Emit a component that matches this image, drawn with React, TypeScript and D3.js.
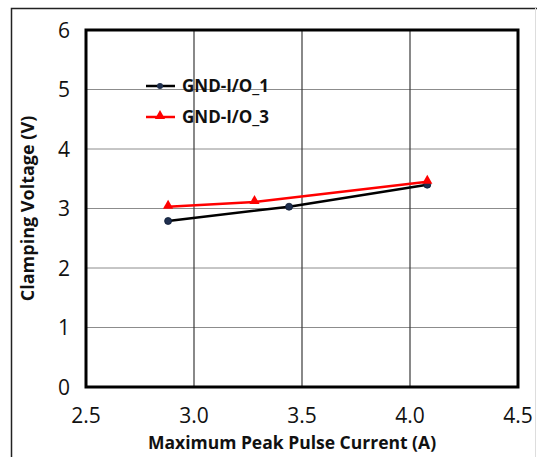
import React from "react";
import * as d3 from "d3";

const xTicks = [2.5, 3.0, 3.5, 4.0, 4.5];
const yTicks = [0, 1, 2, 3, 4, 5, 6];
const seriesNames = ["GND-I/O_1", "GND-I/O_3"];
const io1X = [2.88, 3.44, 4.08];
const io1Y = [2.79, 3.03, 3.4];
const io3X = [2.88, 3.28, 4.08];
const io3Y = [3.03, 3.11, 3.45];

const W = 537, H = 457;
const m = { l: 86, r: 518, t: 30, b: 387 };

export default function App() {
  const x = d3.scaleLinear().domain([2.5, 4.5]).range([m.l, m.r]);
  const y = d3.scaleLinear().domain([0, 6]).range([m.b, m.t]);
  const line = d3.line<[number, number]>().x(d => x(d[0])).y(d => y(d[1]));
  const s1 = io1X.map((v, i) => [v, io1Y[i]] as [number, number]);
  const s3 = io3X.map((v, i) => [v, io3Y[i]] as [number, number]);
  const tri = d3.symbol().type(d3.symbolTriangle).size(45)();
  const font = "'Open Sans', sans-serif";
  return (
    <svg width={W} height={H} style={{ position: "absolute", left: 0, top: 0, background: "#fff" }} fontFamily={font}>
      <rect x={0} y={0} width={W} height={H} fill="#fff" />
      <path d={`M11.5,${H} V8.5 H${W}`} fill="none" stroke="#222" strokeWidth={1.5} />
      <line x1={535.5} x2={535.5} y1={8} y2={H} stroke="#ddd" strokeWidth={1} />
      {yTicks.slice(1, -1).map(t => (
        <line key={"h" + t} x1={m.l} x2={m.r} y1={y(t)} y2={y(t)} stroke="#8c8c8c" strokeWidth={1} />
      ))}
      {xTicks.slice(1, -1).map(t => (
        <line key={"v" + t} x1={x(t)} x2={x(t)} y1={m.t} y2={m.b} stroke="#3a3a3a" strokeWidth={1.2} />
      ))}
      <rect x={m.l} y={m.t} width={m.r - m.l} height={m.b - m.t} fill="none" stroke="#000" strokeWidth={3} />
      {yTicks.map(t => (
        <text key={"yt" + t} x={70} y={y(t)} dy="0.36em" textAnchor="end" fontSize={21} fill="#111">{t}</text>
      ))}
      {xTicks.map(t => (
        <text key={"xt" + t} x={x(t)} y={415} dy="0.36em" textAnchor="middle" fontSize={21} fill="#111">{t.toFixed(1)}</text>
      ))}
      <text x={292} y={443} dy="0.36em" textAnchor="middle" fontSize={17.5} fontWeight="bold" fill="#111">Maximum Peak Pulse Current (A)</text>
      <text transform={`translate(28,${y(3)}) rotate(-90)`} dy="0.36em" textAnchor="middle" fontSize={18} fontWeight="bold" fill="#111">Clamping Voltage (V)</text>
      <path d={line(s1)!} fill="none" stroke="#000" strokeWidth={2.5} />
      <path d={line(s3)!} fill="none" stroke="#ff0000" strokeWidth={2.5} />
      {s1.map((d, i) => (
        <circle key={"c" + i} cx={x(d[0])} cy={y(d[1])} r={3.5} fill="#1f2f4f" stroke="#0d1a33" strokeWidth={0.8} />
      ))}
      {s3.map((d, i) => (
        <path key={"t" + i} d={tri!} transform={`translate(${x(d[0])},${y(d[1]) - 1})`} fill="#ff0000" />
      ))}
      <g>
        <line x1={146} x2={175} y1={86} y2={86} stroke="#000" strokeWidth={2.5} />
        <circle cx={160} cy={86} r={3} fill="#1f2f4f" />
        <text x={182} y={86} dy="0.36em" fontSize={17} fontWeight="bold" fill="#111">{seriesNames[0]}</text>
        <line x1={146} x2={175} y1={117} y2={117} stroke="#ff0000" strokeWidth={2.5} />
        <path d={tri!} transform={`translate(160,116)`} fill="#ff0000" />
        <text x={182} y={117} dy="0.36em" fontSize={17} fontWeight="bold" fill="#111">{seriesNames[1]}</text>
      </g>
    </svg>
  );
}
